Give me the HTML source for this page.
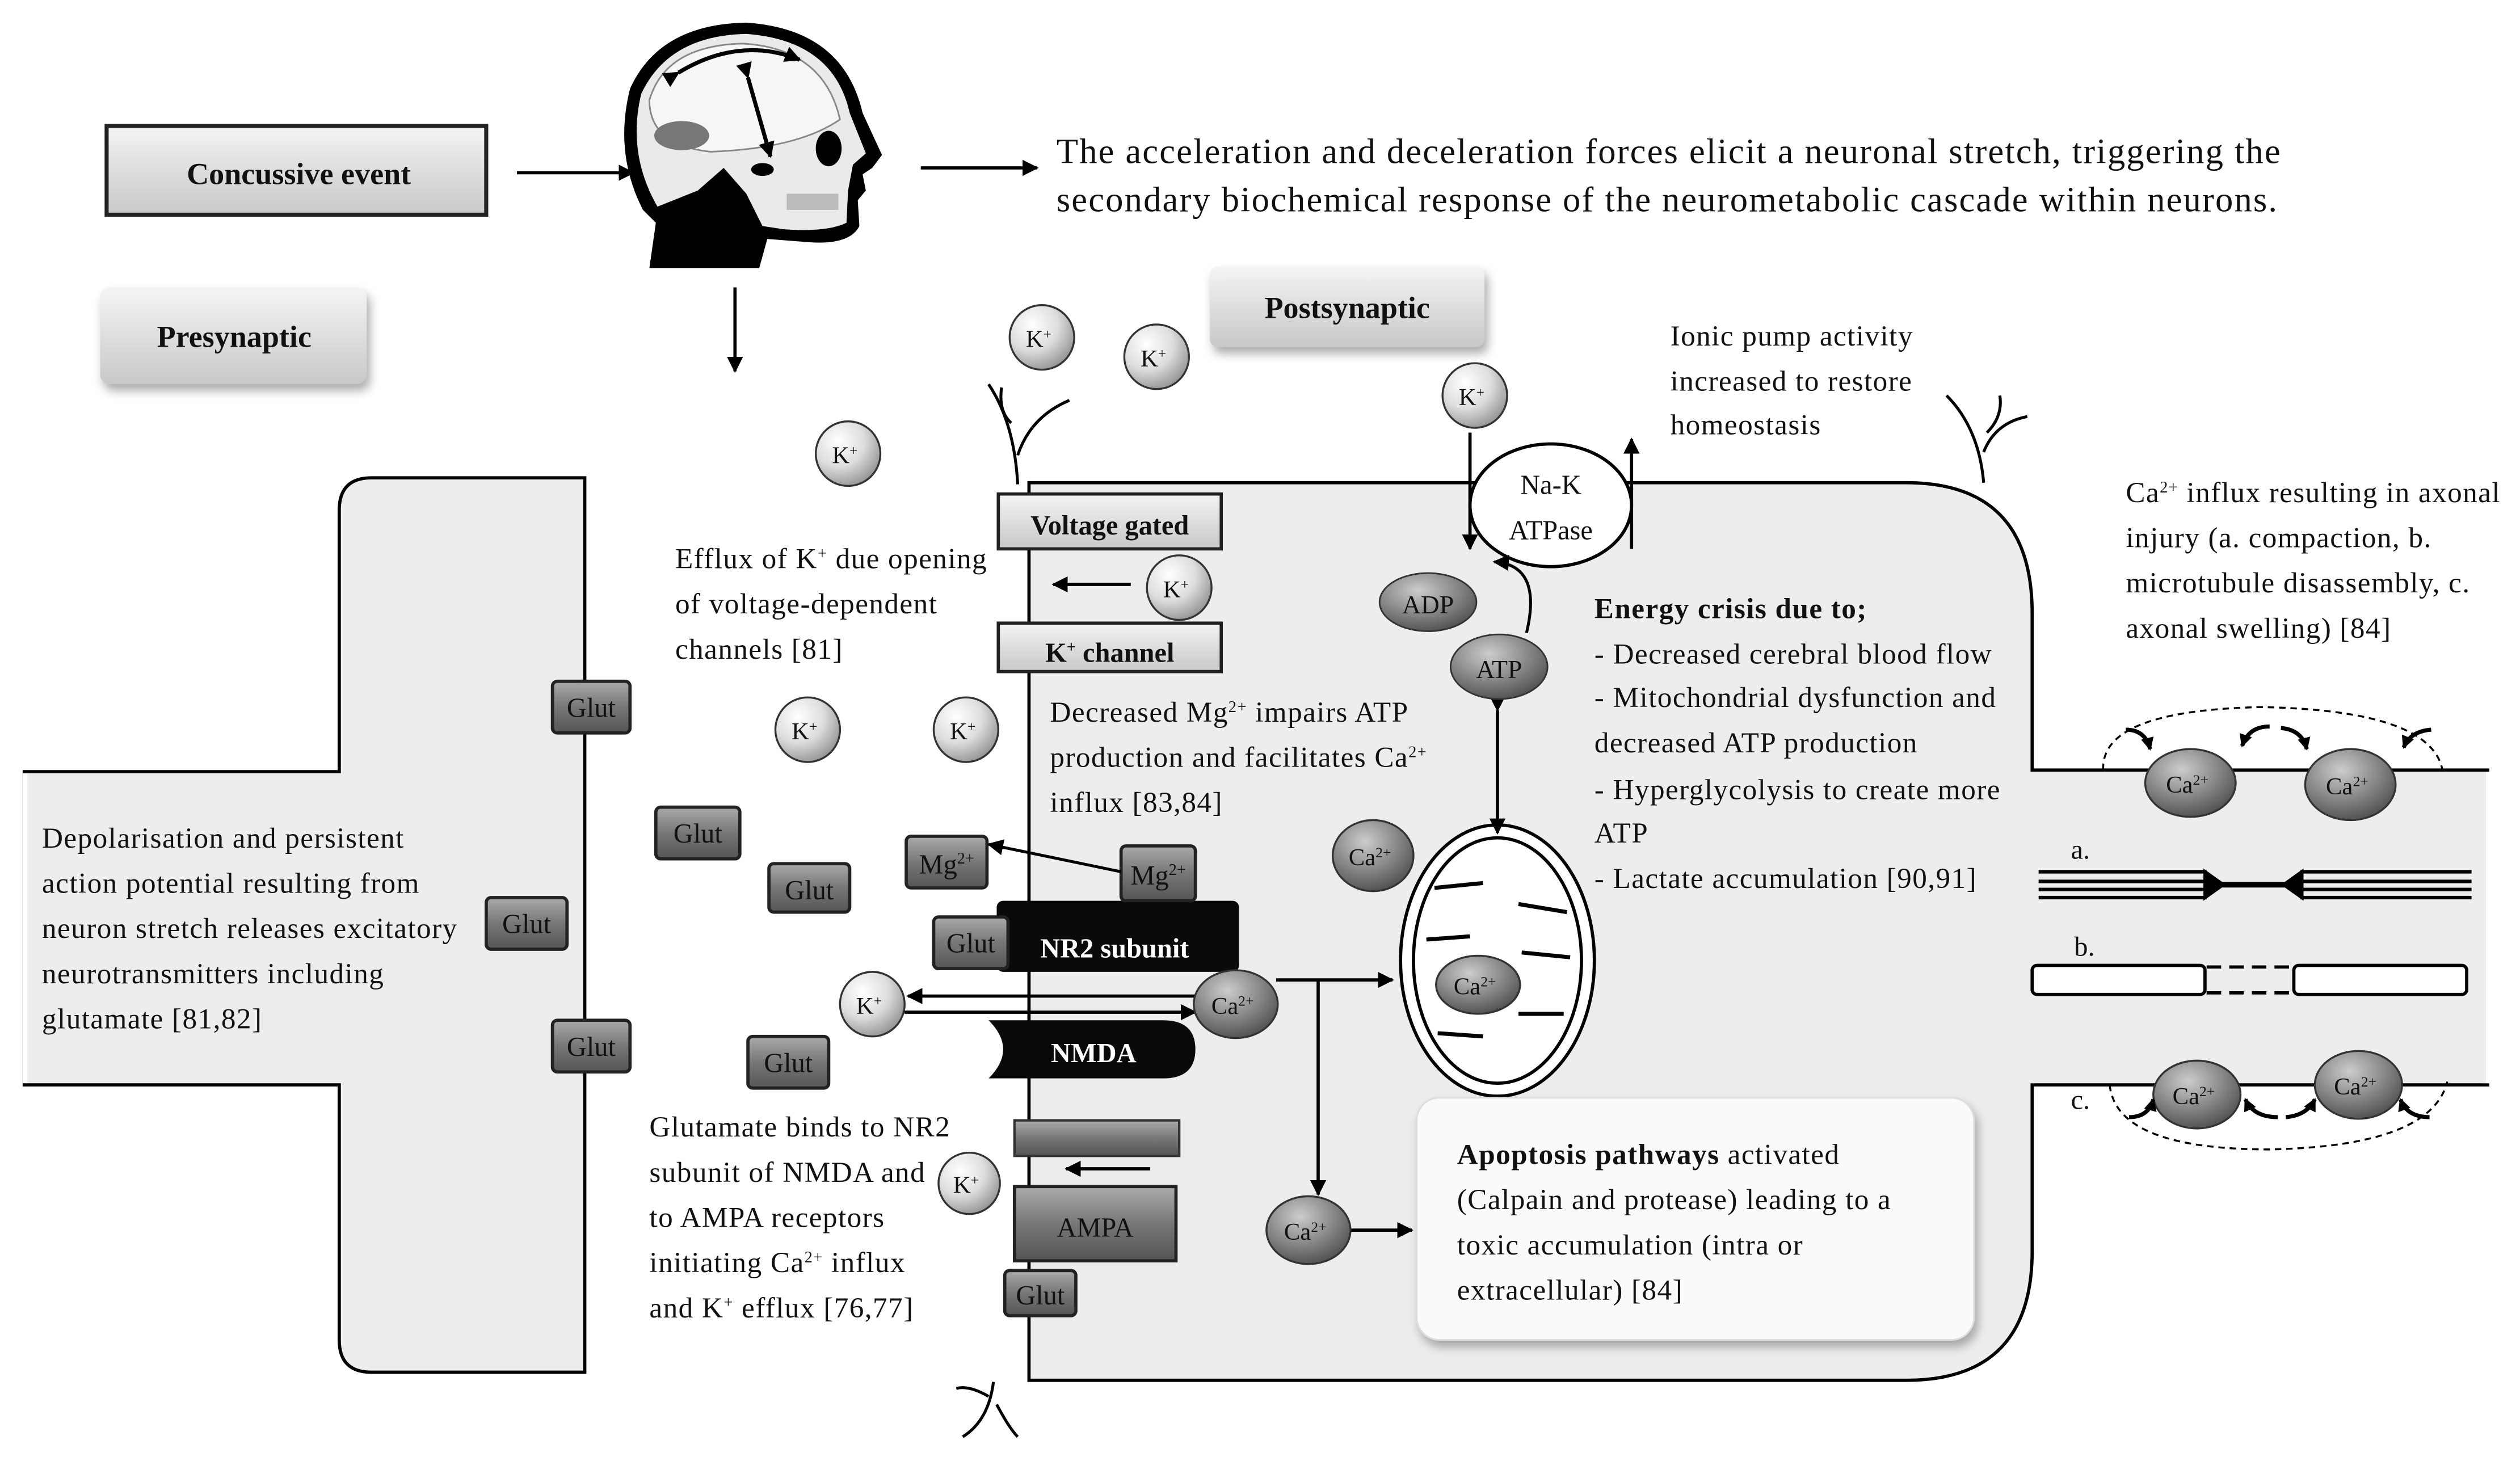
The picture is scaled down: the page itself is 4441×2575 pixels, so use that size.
<!DOCTYPE html>
<html><head><meta charset="utf-8">
<style>
html,body{margin:0;padding:0;background:#fff;}
svg{display:block;width:4441px;height:2575px;}
text{font-family:"Liberation Serif",serif;fill:#111;}
.t{font-size:18px;letter-spacing:0.5px;}
.b{font-weight:bold;}
</style></head><body>
<svg viewBox="0 0 1560 905" preserveAspectRatio="none" xmlns="http://www.w3.org/2000/svg">
<defs>
<radialGradient id="kg" cx="0.35" cy="0.3" r="0.8"><stop offset="0" stop-color="#fff"/><stop offset="0.5" stop-color="#ddd"/><stop offset="1" stop-color="#888"/></radialGradient>
<radialGradient id="cg" cx="0.4" cy="0.3" r="0.8"><stop offset="0" stop-color="#ccc"/><stop offset="0.5" stop-color="#888"/><stop offset="1" stop-color="#444"/></radialGradient>
<linearGradient id="gb" x1="0" y1="0" x2="0" y2="1"><stop offset="0" stop-color="#aaa"/><stop offset="0.5" stop-color="#777"/><stop offset="1" stop-color="#555"/></linearGradient>
<linearGradient id="lb" x1="0" y1="0" x2="0" y2="1"><stop offset="0" stop-color="#f4f4f4"/><stop offset="1" stop-color="#c8c8c8"/></linearGradient>
<marker id="ah" markerWidth="10" markerHeight="10" refX="9" refY="5" orient="auto" markerUnits="userSpaceOnUse"><path d="M0,0 L10,5 L0,10 z" fill="#000"/></marker>
<marker id="sa" markerWidth="8" markerHeight="8" refX="7" refY="4" orient="auto" markerUnits="userSpaceOnUse"><path d="M0,0 L8,4 L0,8 z" fill="#000"/></marker>
<filter id="sh" x="-10%" y="-10%" width="130%" height="140%"><feDropShadow dx="2" dy="4" stdDeviation="3" flood-color="#888" flood-opacity="0.7"/></filter>
</defs>

<!-- top row -->
<rect x="66" y="78" width="235" height="55" fill="url(#lb)" stroke="#222" stroke-width="2.5"/>
<text x="185" y="114" class="b" font-size="19" text-anchor="middle">Concussive event</text>
<line x1="320" y1="107" x2="392" y2="107" stroke="#000" stroke-width="2" marker-end="url(#ah)"/>
<line x1="570" y1="104" x2="642" y2="104" stroke="#000" stroke-width="2" marker-end="url(#ah)"/>
<text x="654" y="101" font-size="22" letter-spacing="0.75">The acceleration and deceleration forces elicit a neuronal stretch, triggering the</text>
<text x="654" y="131" font-size="22" letter-spacing="0.75">secondary biochemical response of the neurometabolic cascade within neurons.</text>

<!-- head -->
<path d="M398,130 Q380,95 390,55 Q408,15 462,14 Q522,18 534,70 L546,96 L540,104 L534,108 L536,118 L531,124 L532,140 Q526,152 500,150 L475,148 L470,166 L402,166 L406,138 Z" fill="#000"/>
<path d="M407,128 Q388,95 397,58 Q414,22 462,21 Q516,25 526,70 L536,95 L528,102 L525,118 L524,138 Q512,144 485,142 L472,140 L462,120 L448,104 L432,118 Z" fill="#eaeaea"/>
<path d="M402,62 Q412,28 460,27 Q510,30 520,74 Q494,92 440,94 Q402,90 402,62 Z" fill="#f6f6f6" stroke="#888" stroke-width="1"/>
<ellipse cx="422" cy="84" rx="17" ry="9" fill="#777"/>
<ellipse cx="513" cy="92" rx="8" ry="11" fill="#000"/>
<ellipse cx="472" cy="105" rx="7" ry="4" fill="#000"/>
<rect x="487" y="120" width="32" height="10" fill="#bbb"/>
<path d="M420,45 Q458,22 495,37" fill="none" stroke="#000" stroke-width="2.5" marker-end="url(#ah)" marker-start="url(#ah)"/>
<line x1="463" y1="48" x2="477" y2="97" stroke="#000" stroke-width="2.5" marker-end="url(#ah)" marker-start="url(#ah)"/>

<line x1="455" y1="178" x2="455" y2="230" stroke="#000" stroke-width="2" marker-end="url(#ah)"/>

<rect x="62" y="178" width="165" height="60" rx="6" fill="url(#lb)" filter="url(#sh)"/>
<text x="145" y="215" class="b" font-size="19" text-anchor="middle">Presynaptic</text>

<!-- presynaptic neuron -->
<path d="M15,478 H210 V316 Q210,296 230,296 H362 V850 H230 Q210,850 210,830 V672 H15 Z" fill="#ededed" stroke="#000" stroke-width="2"/>
<rect x="14" y="479" width="3" height="192" fill="#fff"/>

<!-- postsynaptic neuron -->
<path d="M637,855 V299 H1180 Q1258,299 1258,380 V477 H1540 V672 H1258 V775 Q1258,855 1180,855 Z" fill="#ededed" stroke="#000" stroke-width="2"/>
<rect x="1536" y="478" width="8" height="193" fill="#ededed"/>
<rect x="1539" y="478" width="10" height="193" fill="#fff"/>
<rect x="1257" y="478" width="3" height="193" fill="#ededed"/>

<rect x="749" y="165" width="170" height="50" rx="5" fill="url(#lb)" filter="url(#sh)"/>
<text x="834" y="197" class="b" font-size="19" text-anchor="middle">Postsynaptic</text>

<!-- dendrites -->
<g fill="none" stroke="#000" stroke-width="1.8">
<path d="M630,300 Q628,262 612,238 M630,282 Q638,258 662,248 M626,262 Q618,255 620,240"/>
<path d="M1228,299 Q1225,265 1205,245 M1228,280 Q1235,262 1255,258 M1230,268 Q1240,258 1238,245"/>
<path d="M615,856 Q612,880 596,890 M617,870 Q625,885 630,890 M612,865 Q600,858 592,860"/>
</g>

<!-- text blocks -->
<text x="1034" y="214" class="t">Ionic pump activity</text>
<text x="1034" y="242" class="t">increased to restore</text>
<text x="1034" y="269" class="t">homeostasis</text>
<text x="1316" y="311" class="t">Ca<tspan font-size="10" dy="-6">2+</tspan><tspan dy="6"> influx resulting in axonal</tspan></text>
<text x="1316" y="339" class="t">injury (a. compaction, b.</text>
<text x="1316" y="367" class="t">microtubule disassembly, c.</text>
<text x="1316" y="395" class="t">axonal swelling) [84]</text>
<text x="418" y="352" class="t">Efflux of K<tspan font-size="10" dy="-6">+</tspan><tspan dy="6"> due opening</tspan></text>
<text x="418" y="380" class="t">of voltage-dependent</text>
<text x="418" y="408" class="t">channels [81]</text>
<text x="650" y="447" class="t">Decreased Mg<tspan font-size="10" dy="-6">2+</tspan><tspan dy="6"> impairs ATP</tspan></text>
<text x="650" y="475" class="t">production and facilitates Ca<tspan font-size="10" dy="-6">2+</tspan></text>
<text x="650" y="503" class="t">influx [83,84]</text>
<text x="987" y="383" class="t b">Energy crisis due to;</text>
<text x="987" y="411" class="t">- Decreased cerebral blood flow</text>
<text x="987" y="438" class="t">- Mitochondrial dysfunction and</text>
<text x="987" y="466" class="t">decreased ATP production</text>
<text x="987" y="495" class="t">- Hyperglycolysis to create more</text>
<text x="987" y="522" class="t">ATP</text>
<text x="987" y="550" class="t">- Lactate accumulation [90,91]</text>
<text x="26" y="525" class="t">Depolarisation and persistent</text>
<text x="26" y="553" class="t">action potential resulting from</text>
<text x="26" y="581" class="t">neuron stretch releases excitatory</text>
<text x="26" y="609" class="t">neurotransmitters including</text>
<text x="26" y="637" class="t">glutamate [81,82]</text>
<text x="402" y="704" class="t">Glutamate binds to NR2</text>
<text x="402" y="732" class="t">subunit of NMDA and</text>
<text x="402" y="760" class="t">to AMPA receptors</text>
<text x="402" y="788" class="t">initiating Ca<tspan font-size="10" dy="-6">2+</tspan><tspan dy="6"> influx</tspan></text>
<text x="402" y="816" class="t">and K<tspan font-size="10" dy="-6">+</tspan><tspan dy="6"> efflux [76,77]</tspan></text>

<!-- channels -->
<rect x="618" y="306" width="138" height="34" fill="url(#lb)" stroke="#222" stroke-width="2"/>
<text x="687" y="331" class="b" font-size="17" text-anchor="middle">Voltage gated</text>
<rect x="618" y="386" width="138" height="30" fill="url(#lb)" stroke="#222" stroke-width="2"/>
<text x="687" y="410" class="b" font-size="17" text-anchor="middle">K<tspan font-size="10" dy="-6">+</tspan><tspan dy="6"> channel</tspan></text>
<line x1="700" y1="362" x2="652" y2="362" stroke="#000" stroke-width="2" marker-end="url(#ah)"/>

<!-- NR2/NMDA -->
<rect x="617" y="558" width="150" height="44" rx="4" fill="#0a0a0a"/>
<text x="690" y="593" class="b" font-size="17" text-anchor="middle" style="fill:#fff">NR2 subunit</text>
<path d="M612,632 H720 Q740,632 740,650 Q740,668 720,668 H612 Q630,650 612,632 Z" fill="#0a0a0a"/>
<text x="677" y="658" class="b" font-size="17" text-anchor="middle" style="fill:#fff">NMDA</text>
<rect x="628" y="694" width="102" height="22" fill="url(#gb)" stroke="#333" stroke-width="1.5"/>
<line x1="712" y1="724" x2="660" y2="724" stroke="#000" stroke-width="2" marker-end="url(#ah)"/>
<rect x="628" y="735" width="100" height="46" fill="url(#gb)" stroke="#222" stroke-width="2"/>
<text x="678" y="766" font-size="17" text-anchor="middle">AMPA</text>

<!-- Glut boxes -->
<g stroke="#222" stroke-width="2" fill="url(#gb)">
<rect x="342" y="422" width="48" height="32" rx="3"/>
<rect x="406" y="500" width="52" height="32" rx="3"/>
<rect x="476" y="535" width="50" height="30" rx="3"/>
<rect x="301" y="556" width="50" height="32" rx="3"/>
<rect x="342" y="632" width="48" height="32" rx="3"/>
<rect x="463" y="642" width="50" height="32" rx="3"/>
<rect x="578" y="568" width="46" height="32" rx="3"/>
<rect x="622" y="787" width="44" height="28" rx="3"/>
<rect x="561" y="518" width="50" height="32" rx="3"/>
<rect x="694" y="524" width="46" height="34" rx="3"/>
</g>
<g font-size="17" text-anchor="middle">
<text x="366" y="444">Glut</text><text x="432" y="522">Glut</text><text x="501" y="557">Glut</text>
<text x="326" y="578">Glut</text><text x="366" y="654">Glut</text><text x="488" y="664">Glut</text>
<text x="601" y="590">Glut</text><text x="644" y="808">Glut</text>
<text x="586" y="541">Mg<tspan font-size="10" dy="-6">2+</tspan></text>
<text x="717" y="548">Mg<tspan font-size="10" dy="-6">2+</tspan></text>
</g>
<line x1="694" y1="540" x2="612" y2="523" stroke="#000" stroke-width="1.8" marker-end="url(#ah)"/>

<!-- K+ ions -->
<g stroke="#333" stroke-width="1.2" fill="url(#kg)">
<circle cx="645" cy="209" r="20"/><circle cx="716" cy="221" r="20"/><circle cx="525" cy="281" r="20"/>
<circle cx="913" cy="245" r="20"/><circle cx="730" cy="364" r="20"/><circle cx="500" cy="452" r="20"/>
<circle cx="598" cy="452" r="20"/><circle cx="540" cy="622" r="20"/><circle cx="600" cy="733" r="19"/>
</g>
<g font-size="15" text-anchor="middle">
<text x="643" y="215">K<tspan font-size="9" dy="-5">+</tspan></text>
<text x="714" y="227">K<tspan font-size="9" dy="-5">+</tspan></text>
<text x="523" y="287">K<tspan font-size="9" dy="-5">+</tspan></text>
<text x="911" y="251">K<tspan font-size="9" dy="-5">+</tspan></text>
<text x="728" y="370">K<tspan font-size="9" dy="-5">+</tspan></text>
<text x="498" y="458">K<tspan font-size="9" dy="-5">+</tspan></text>
<text x="596" y="458">K<tspan font-size="9" dy="-5">+</tspan></text>
<text x="538" y="628">K<tspan font-size="9" dy="-5">+</tspan></text>
<text x="598" y="739">K<tspan font-size="9" dy="-5">+</tspan></text>
</g>

<!-- arrows around NMDA -->
<line x1="742" y1="617" x2="562" y2="617" stroke="#000" stroke-width="2" marker-end="url(#ah)"/>
<line x1="560" y1="627" x2="740" y2="627" stroke="#000" stroke-width="2" marker-end="url(#ah)"/>
<line x1="790" y1="607" x2="862" y2="607" stroke="#000" stroke-width="2" marker-end="url(#ah)"/>
<line x1="816" y1="607" x2="816" y2="740" stroke="#000" stroke-width="2" marker-end="url(#ah)"/>
<line x1="836" y1="762" x2="874" y2="762" stroke="#000" stroke-width="2" marker-end="url(#ah)"/>

<!-- mitochondrion -->
<ellipse cx="927" cy="595" rx="60" ry="84" fill="#fff" stroke="#000" stroke-width="2"/>
<ellipse cx="927" cy="595" rx="52" ry="76" fill="#fff" stroke="#000" stroke-width="2"/>
<g stroke="#000" stroke-width="2.5">
<line x1="888" y1="550" x2="918" y2="547"/><line x1="940" y1="560" x2="970" y2="565"/>
<line x1="883" y1="582" x2="910" y2="580"/><line x1="942" y1="590" x2="972" y2="593"/>
<line x1="890" y1="640" x2="918" y2="642"/><line x1="940" y1="628" x2="968" y2="628"/>
</g>
<line x1="927" y1="440" x2="927" y2="516" stroke="#000" stroke-width="2" marker-end="url(#ah)" marker-start="url(#ah)"/>

<!-- Na-K ATPase -->
<line x1="910" y1="268" x2="910" y2="340" stroke="#000" stroke-width="2" marker-end="url(#ah)"/>
<line x1="1010" y1="340" x2="1010" y2="272" stroke="#000" stroke-width="2" marker-end="url(#ah)"/>
<ellipse cx="960" cy="313" rx="50" ry="38" fill="#fff" stroke="#000" stroke-width="2"/>
<text x="960" y="306" font-size="17" text-anchor="middle">Na-K</text>
<text x="960" y="334" font-size="17" text-anchor="middle">ATPase</text>
<path d="M945,392 Q955,350 925,348" fill="none" stroke="#000" stroke-width="1.8" marker-end="url(#ah)"/>
<ellipse cx="884" cy="373" rx="30" ry="18" fill="url(#cg)" stroke="#333"/>
<text x="884" y="380" font-size="16" text-anchor="middle">ADP</text>
<ellipse cx="928" cy="413" rx="30" ry="20" fill="url(#cg)" stroke="#333"/>
<text x="928" y="420" font-size="16" text-anchor="middle">ATP</text>

<!-- Ca ions -->
<g stroke="#333" stroke-width="1.2" fill="url(#cg)">
<ellipse cx="850" cy="530" rx="25" ry="22"/><ellipse cx="765" cy="622" rx="26" ry="21"/>
<ellipse cx="810" cy="762" rx="26" ry="21"/><ellipse cx="915" cy="610" rx="26" ry="18"/>
<ellipse cx="1356" cy="485" rx="28" ry="21"/><ellipse cx="1455" cy="486" rx="28" ry="22"/>
<ellipse cx="1360" cy="678" rx="27" ry="21"/><ellipse cx="1460" cy="672" rx="27" ry="21"/>
</g>
<g font-size="15" text-anchor="middle">
<text x="848" y="536">Ca<tspan font-size="9" dy="-5">2+</tspan></text>
<text x="763" y="628">Ca<tspan font-size="9" dy="-5">2+</tspan></text>
<text x="808" y="768">Ca<tspan font-size="9" dy="-5">2+</tspan></text>
<text x="913" y="616">Ca<tspan font-size="9" dy="-5">2+</tspan></text>
<text x="1354" y="491">Ca<tspan font-size="9" dy="-5">2+</tspan></text>
<text x="1453" y="492">Ca<tspan font-size="9" dy="-5">2+</tspan></text>
<text x="1358" y="684">Ca<tspan font-size="9" dy="-5">2+</tspan></text>
<text x="1458" y="678">Ca<tspan font-size="9" dy="-5">2+</tspan></text>
</g>

<!-- apoptosis box -->
<rect x="877" y="680" width="345" height="150" rx="14" fill="#fafafa" stroke="#ddd" stroke-width="1" filter="url(#sh)"/>
<text x="902" y="721" class="t"><tspan font-weight="bold">Apoptosis pathways</tspan> activated</text>
<text x="902" y="749" class="t">(Calpain and protease) leading to a</text>
<text x="902" y="777" class="t">toxic accumulation (intra or</text>
<text x="902" y="805" class="t">extracellular) [84]</text>

<!-- axon injury panel -->
<path d="M1302,477 Q1300,440 1400,438 Q1505,440 1512,477" fill="none" stroke="#000" stroke-width="1.2" stroke-dasharray="4,3"/>
<g fill="none" stroke="#000" stroke-width="2.5">
<path d="M1316,452 Q1328,452 1331,464" marker-end="url(#sa)"/>
<path d="M1405,450 Q1392,450 1388,462" marker-end="url(#sa)"/>
<path d="M1412,451 Q1425,452 1428,464" marker-end="url(#sa)"/>
<path d="M1505,452 Q1492,453 1488,463" marker-end="url(#sa)"/>
</g>
<text x="1282" y="532" font-size="17">a.</text>
<g stroke="#000" stroke-width="2.2">
<line x1="1262" y1="540" x2="1366" y2="540"/><line x1="1262" y1="546" x2="1366" y2="546"/>
<line x1="1262" y1="551" x2="1366" y2="551"/><line x1="1262" y1="556" x2="1366" y2="556"/>
<line x1="1424" y1="540" x2="1530" y2="540"/><line x1="1424" y1="546" x2="1530" y2="546"/>
<line x1="1424" y1="551" x2="1530" y2="551"/><line x1="1424" y1="556" x2="1530" y2="556"/>
<line x1="1370" y1="548" x2="1420" y2="548" stroke-width="3.5"/>
</g>
<path d="M1364,538 L1378,548 L1364,558 Z M1426,538 L1412,548 L1426,558 Z"/>
<text x="1284" y="592" font-size="17">b.</text>
<rect x="1258" y="598" width="107" height="18" rx="3" fill="#fff" stroke="#000" stroke-width="2"/>
<rect x="1420" y="598" width="107" height="18" rx="3" fill="#fff" stroke="#000" stroke-width="2"/>
<g stroke="#000" stroke-width="2" stroke-dasharray="9,5"><line x1="1366" y1="599" x2="1420" y2="599"/><line x1="1366" y1="615" x2="1420" y2="615"/></g>
<text x="1282" y="687" font-size="17">c.</text>
<path d="M1306,672 Q1310,712 1405,712 Q1505,710 1515,670" fill="none" stroke="#000" stroke-width="1.2" stroke-dasharray="4,3"/>
<g fill="none" stroke="#000" stroke-width="2.5">
<path d="M1318,692 Q1330,692 1333,681" marker-end="url(#sa)"/>
<path d="M1410,692 Q1395,692 1390,681" marker-end="url(#sa)"/>
<path d="M1415,692 Q1428,691 1433,681" marker-end="url(#sa)"/>
<path d="M1504,692 Q1490,692 1486,681" marker-end="url(#sa)"/>
</g>
</svg>
</body></html>
